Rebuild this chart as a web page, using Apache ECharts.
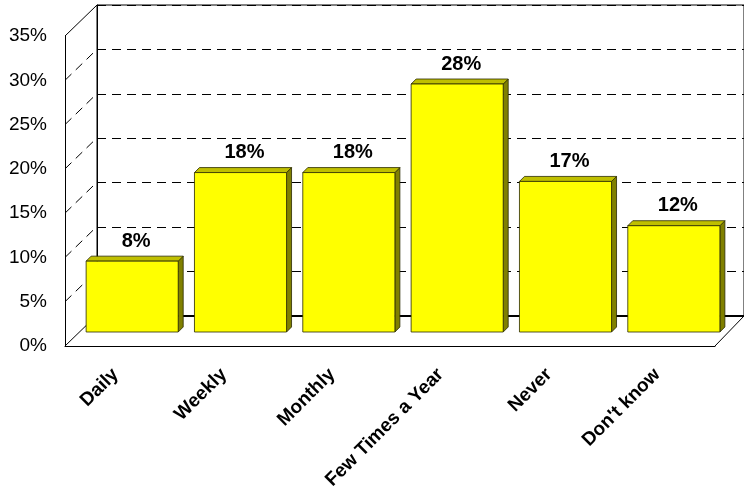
<!DOCTYPE html>
<html>
<head>
<meta charset="utf-8">
<script src="https://cdn.jsdelivr.net/npm/echarts@6/dist/echarts.min.js"></script>
<style>
html,body{margin:0;padding:0;background:#fff;}
#chart{width:744px;height:494px;}
</style>
</head>
<body>
<div id="chart"></div>
<script>
const categories = ['Daily', 'Weekly', 'Monthly', 'Few Times a Year', 'Never', "Don't know"];
const values = [8, 18, 18, 28, 17, 12];
const yTicks = [0, 5, 10, 15, 20, 25, 30, 35];

const FONT = "'Liberation Sans', Arial, sans-serif";
const DEPTH_X = 32, DEPTH_Y = -31;   // wall depth
const BAR_D = 5;                      // bar 3D depth

const chart = echarts.init(document.getElementById('chart'), null, {renderer: 'canvas'});

const yBase = {min: 0, max: 35, interval: 5};

const option = {
  backgroundColor: '#ffffff',
  animation: false,
  grid: [
    {left: 65, top: 36, width: 650, height: 310},          // front plane
    {left: 97, top: 5, width: 647, height: 311, show: true, borderColor: '#000', borderWidth: 1, backgroundColor: 'transparent'}, // back wall
    {left: 78, top: 22, width: 650, height: 310}           // bar plane
  ],
  xAxis: [
    {gridIndex: 0, type: 'category', data: categories, boundaryGap: true,
     axisLine: {show: true, lineStyle: {color: '#000', width: 1}},
     axisTick: {show: false},
     axisLabel: {rotate: 45, margin: 22, interval: 0, padding: [0, 5, 0, 0], color: '#000', fontFamily: FONT, fontWeight: 'bold', fontSize: 19}},
    {gridIndex: 1, type: 'category', data: categories,
     axisLine: {show: true, lineStyle: {color: '#000', width: 2}},
     axisTick: {show: false}, axisLabel: {show: false}},
    {gridIndex: 2, type: 'category', data: categories, show: false}
  ],
  yAxis: [
    Object.assign({gridIndex: 0, type: 'value',
     axisLine: {show: true, lineStyle: {color: '#000', width: 1}},
     axisTick: {show: false},
     splitLine: {show: false},
     axisLabel: {margin: 18, color: '#000', fontFamily: FONT, fontSize: 19, formatter: v => v + '%'}}, yBase),
    Object.assign({gridIndex: 1, type: 'value',
     axisLine: {show: true, lineStyle: {color: '#000', width: 1}},
     axisTick: {show: false}, axisLabel: {show: false},
     splitLine: {show: true, lineStyle: {color: '#000', width: 1, type: [9, 6]}}}, yBase),
    Object.assign({gridIndex: 2, type: 'value', show: false, splitLine: {show: false}}, yBase)
  ],
  series: [
    {
      type: 'custom', xAxisIndex: 0, yAxisIndex: 0, z: 1, silent: true,
      data: yTicks.map(v => [0, v]),
      renderItem: function (params, api) {
        const cs = params.coordSys;
        const v = api.value(1);
        const y = api.coord([0, v])[1];
        const x = cs.x;
        const solid = (v === yTicks[0] || v === yTicks[yTicks.length - 1]);
        return {
          type: 'line',
          shape: {x1: x, y1: y, x2: x + DEPTH_X, y2: y + DEPTH_Y},
          style: {stroke: '#000', lineWidth: 1, lineDash: solid ? null : [9, 6]}
        };
      }
    },
    {
      type: 'custom', xAxisIndex: 0, yAxisIndex: 0, z: 1, silent: true,
      data: [[categories.length - 1, 0]],
      renderItem: function (params, api) {
        const cs = params.coordSys;
        const x = cs.x + cs.width, y = cs.y + cs.height;
        return {
          type: 'line',
          shape: {x1: x, y1: y, x2: x + DEPTH_X - 3, y2: y + DEPTH_Y + 1},
          style: {stroke: '#000', lineWidth: 1}
        };
      }
    },
    {
      type: 'custom', xAxisIndex: 2, yAxisIndex: 2, z: 5, silent: true,
      data: values.map((v, i) => [i, v]),
      renderItem: function (params, api) {
        const c = api.value(0), v = api.value(1);
        const top = api.coord([c, v]);
        const base = api.coord([c, 0]);
        const bw = api.size([1, 0])[0] * 0.85;
        const x0 = top[0] - bw / 2, x1 = top[0] + bw / 2;
        const yT = top[1], yB = base[1], d = BAR_D;
        const stroke = '#2a2a00';
        return {
          type: 'group',
          children: [
            {type: 'polygon', shape: {points: [[x1, yT], [x1 + d, yT - d], [x1 + d, yB - d], [x1, yB]]},
             style: {fill: '#808000', stroke: stroke, lineWidth: 0.8}},
            {type: 'polygon', shape: {points: [[x0, yT], [x0 + d, yT - d], [x1 + d, yT - d], [x1, yT]]},
             style: {fill: '#BFBF00', stroke: stroke, lineWidth: 0.8}},
            {type: 'rect', shape: {x: x0, y: yT, width: bw, height: yB - yT},
             style: {fill: '#FFFF00', stroke: stroke, lineWidth: 0.8}},
            {type: 'text', x: top[0] + 4, y: yT - 10,
             style: {text: v + '%', fill: '#000', font: 'bold 20px ' + FONT, textAlign: 'center', textVerticalAlign: 'bottom'}}
          ]
        };
      }
    }
  ]
};

chart.setOption(option);
</script>
</body>
</html>
